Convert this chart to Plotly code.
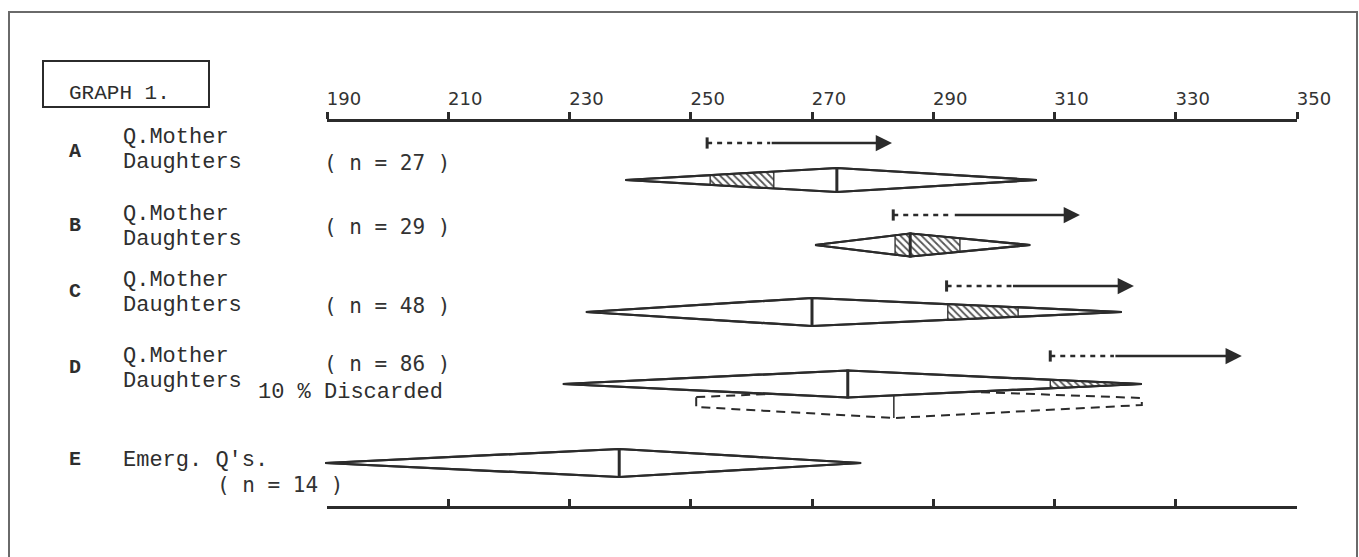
import plotly.graph_objects as go

# ---------------- data ----------------
groups = ["A", "B", "C", "D", "E"]
group_labels = ["Q.Mother<br>Daughters", "Q.Mother<br>Daughters", "Q.Mother<br>Daughters",
                "Q.Mother<br>Daughters", "Emerg. Q's."]
n_values = [27, 29, 48, 86, 14]

# Queen-mother arrows (A-D): start of dashed part, start of solid part, tip
qm_start = [252.7, 283.4, 292.2, 309.3]
qm_solid_from = [263.1, 293.3, 302.9, 319.8]
qm_tip = [283.2, 314.2, 323.1, 340.9]

# Daughters diamonds (A-E): minimum, mean, maximum
d_min = [239.2, 270.5, 232.7, 228.9, 189.7]
d_mean = [274.1, 286.2, 270.0, 275.9, 238.2]
d_max = [307.1, 306.0, 321.1, 324.4, 278.1]

# shaded (hatched) segments inside diamonds
hatch_group = ["A", "B", "B", "C", "D"]
hatch_lo = [253.2, 283.7, 286.2, 292.4, 309.3]
hatch_hi = [263.7, 286.2, 294.4, 304.0, 324.4]

# D with 10 % discarded (dashed)
disc_min = 250.9
disc_mean = 283.5
disc_max = 324.4

tick_values = [190, 210, 230, 250, 270, 290, 310, 330, 350]

# ---------------- layout constants ----------------
W, H = 1359, 557
X0PX, X1PX = 327, 1297
V0, V1 = 190, 350
scale = (X1PX - X0PX) / (V1 - V0)
XMIN = V0 - X0PX / scale
XMAX = V0 + (W - X0PX) / scale

arrow_y = [143, 215, 286, 356]
diam_y = [180, 245, 312, 384, 463]
diam_h = [12, 11.5, 14, 13.5, 14]
disc_top = [397, 389, 398]
disc_bot = [407, 418, 405]

INK = "#2b2b2b"
TXT = "#2e2e2e"
MONO = "Liberation Mono"
SANSMONO = "DejaVu Sans Mono"

fig = go.Figure()


def halfh(x, lo, mid, hi, h):
    if x <= mid:
        return h * (x - lo) / (mid - lo)
    return h * (hi - x) / (hi - mid)


# dashed "discarded" outline (drawn first, partly covered by D)
fig.add_trace(go.Scatter(
    x=[disc_min, disc_mean, disc_max, disc_max, disc_mean, disc_min, disc_min],
    y=[disc_top[0], disc_top[1], disc_top[2], disc_bot[2], disc_bot[1], disc_bot[0], disc_top[0]],
    mode="lines", line=dict(color=INK, width=2, dash="9px,6px"),
    hoverinfo="skip", showlegend=False))
fig.add_trace(go.Scatter(
    x=[disc_mean, disc_mean], y=[disc_top[1], disc_bot[1]],
    mode="lines", line=dict(color=INK, width=1.5),
    hoverinfo="skip", showlegend=False))

# diamonds (white fill)
for i, g in enumerate(groups):
    lo, mid, hi, yc, h = d_min[i], d_mean[i], d_max[i], diam_y[i], diam_h[i]
    fig.add_trace(go.Scatter(
        x=[lo, mid, hi, mid, lo], y=[yc, yc - h, yc, yc + h, yc],
        mode="lines", fill="toself", fillcolor="white",
        line=dict(color=INK, width=2.2), hoverinfo="skip", showlegend=False))

# hatched segments
for k, g in enumerate(hatch_group):
    i = groups.index(g)
    lo, mid, hi, yc, h = d_min[i], d_mean[i], d_max[i], diam_y[i], diam_h[i]
    a, b = hatch_lo[k], hatch_hi[k]
    xs_top = [a] + ([mid] if a < mid < b else []) + [b]
    xs = xs_top + xs_top[::-1] + [a]
    ys = [yc - halfh(x, lo, mid, hi, h) for x in xs_top] + \
         [yc + halfh(x, lo, mid, hi, h) for x in xs_top[::-1]] + [yc - halfh(a, lo, mid, hi, h)]
    fig.add_trace(go.Scatter(
        x=xs, y=ys, mode="lines", fill="toself",
        fillpattern=dict(shape="\\", fgcolor="#555555", bgcolor="white", size=5, solidity=0.35),
        line=dict(color=INK, width=1.3), hoverinfo="skip", showlegend=False))

# diamond outlines again + mean bars
for i, g in enumerate(groups):
    lo, mid, hi, yc, h = d_min[i], d_mean[i], d_max[i], diam_y[i], diam_h[i]
    fig.add_trace(go.Scatter(
        x=[lo, mid, hi, mid, lo], y=[yc, yc - h, yc, yc + h, yc],
        mode="lines", line=dict(color=INK, width=2.2), hoverinfo="skip", showlegend=False))
    fig.add_trace(go.Scatter(
        x=[mid, mid], y=[yc - h - 1, yc + h + 1],
        mode="lines", line=dict(color=INK, width=3), hoverinfo="skip", showlegend=False))

# queen-mother arrows
annotations = []
for i in range(len(qm_start)):
    fig.add_trace(go.Scatter(
        x=[qm_start[i], qm_solid_from[i]], y=[arrow_y[i], arrow_y[i]],
        mode="lines", line=dict(color=INK, width=2.5, dash="5px,5px"),
        hoverinfo="skip", showlegend=False))
    fig.add_trace(go.Scatter(
        x=[qm_start[i]], y=[arrow_y[i]], mode="markers",
        marker=dict(symbol="line-ns-open", size=8, color=INK, line=dict(color=INK, width=3)),
        hoverinfo="skip", showlegend=False))
    annotations.append(dict(
        x=qm_tip[i], y=arrow_y[i], ax=qm_solid_from[i], ay=arrow_y[i],
        xref="x", yref="y", axref="x", ayref="y", text="", showarrow=True,
        arrowhead=2, arrowsize=1.3, arrowwidth=2.5, arrowcolor=INK))

# dummy traces so that the two drawn scale axes exist
fig.add_trace(go.Scatter(x=[V0, V1], y=[None, None], xaxis="x2", yaxis="y",
                         mode="lines", hoverinfo="skip", showlegend=False))
fig.add_trace(go.Scatter(x=[V0, V1], y=[None, None], xaxis="x3", yaxis="y",
                         mode="lines", hoverinfo="skip", showlegend=False))


def px(x):
    return x / W


# text
annotations.append(dict(text="GRAPH 1.", x=px(67), y=93, xref="paper", yref="y",
                        xanchor="left", yanchor="middle", showarrow=False,
                        font=dict(family=MONO, size=21, color=TXT)))
letter_y = [151, 225, 291, 367, 459]
line1_y = [137, 214, 280, 356, 460]
n_pos = [(322, 163), (322, 227), (322, 306), (322, 364), (215, 485)]
for i, g in enumerate(groups):
    annotations.append(dict(text="<b>%s</b>" % g, x=px(75), y=letter_y[i], xref="paper", yref="y",
                            xanchor="center", yanchor="middle", showarrow=False,
                            font=dict(family=MONO, size=20, color=TXT)))
    parts = group_labels[i].split("<br>")
    for j, p in enumerate(parts):
        annotations.append(dict(text=p, x=px(121), y=line1_y[i] + 25 * j, xref="paper", yref="y",
                                xanchor="left", yanchor="middle", showarrow=False,
                                font=dict(family=MONO, size=22, color=TXT)))
    annotations.append(dict(text="( n = %d )" % n_values[i], x=px(n_pos[i][0]), y=n_pos[i][1],
                            xref="paper", yref="y", xanchor="left", yanchor="middle",
                            showarrow=False, font=dict(family=SANSMONO, size=21, color="#333")))
annotations.append(dict(text="10 % Discarded", x=px(256), y=392, xref="paper", yref="y",
                        xanchor="left", yanchor="middle", showarrow=False,
                        font=dict(family=MONO, size=22, color=TXT)))

shapes = [
    dict(type="rect", xref="paper", yref="paper", x0=px(9), x1=px(1357), y0=-0.2, y1=1 - 12 / H,
         line=dict(color="#6a6a6a", width=2), fillcolor="rgba(0,0,0,0)", layer="below"),
    dict(type="rect", xref="paper", yref="y", x0=px(43), x1=px(209), y0=61, y1=107,
         line=dict(color=INK, width=2), fillcolor="rgba(0,0,0,0)"),
]

axis_common = dict(domain=[X0PX / W, X1PX / W], range=[V0, V1], anchor="free",
                   showline=True, linecolor=INK, linewidth=3, tickvals=tick_values,
                   tickcolor=INK, tickwidth=2.5, ticklen=7, showgrid=False, zeroline=False,
                   fixedrange=True, automargin=False)

fig.update_layout(
    template="none",
    width=W, height=H, margin=dict(l=0, r=0, t=0, b=0, pad=0, autoexpand=False),
    paper_bgcolor="white", plot_bgcolor="rgba(0,0,0,0)",
    hovermode=False, showlegend=False,
    xaxis=dict(domain=[0, 1], range=[XMIN, XMAX], visible=False, fixedrange=True, automargin=False),
    yaxis=dict(domain=[0, 1], range=[H, 0], visible=False, fixedrange=True, automargin=False),
    xaxis2=dict(side="top", position=1 - 120 / H, ticks="outside", showticklabels=True,
                ticklabelshift=17, tickfont=dict(family="DejaVu Sans", size=18, color="#333"),
                **axis_common),
    xaxis3=dict(side="bottom", position=1 - 507 / H, ticks="inside", showticklabels=False,
                **axis_common),
    annotations=annotations, shapes=shapes,
)

fig.write_html("out.html")
